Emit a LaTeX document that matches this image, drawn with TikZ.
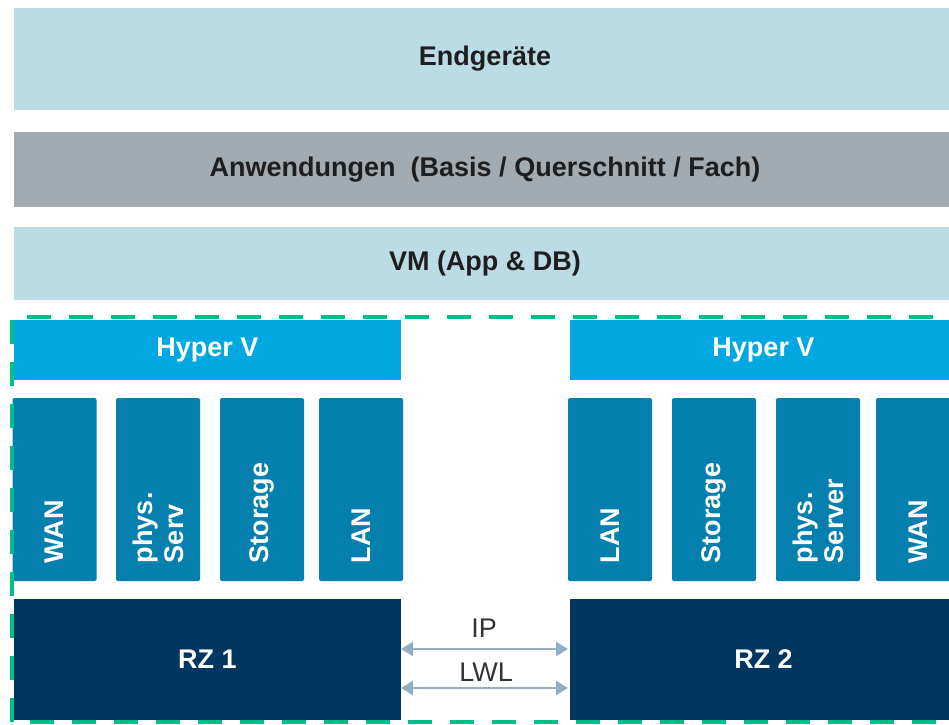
\documentclass[tikz,border=0pt]{standalone}
\usepackage{fontspec}
\setmainfont{Liberation Sans}
\usetikzlibrary{arrows.meta}
\definecolor{bandblue}{HTML}{BCDCE5}
\definecolor{bandgray}{HTML}{A3ABB2}
\definecolor{hyperblue}{HTML}{00A7E1}
\definecolor{colblue}{HTML}{0580AE}
\definecolor{rznavy}{HTML}{00365F}
\definecolor{dashgreen}{HTML}{00BF8A}
\definecolor{arrowgray}{HTML}{93ADC6}
\definecolor{darktext}{HTML}{1E1E1E}
\definecolor{labeltext}{HTML}{333333}
\begin{document}
\begin{tikzpicture}[x=1pt,y=-1pt,
  base/.style={inner sep=0pt, outer sep=0pt, font=\fontsize{27}{31}\selectfont\bfseries},
  band/.style={base, anchor=north west, text=darktext, minimum width=942pt},
  hyper/.style={base, anchor=north west, fill=hyperblue, text=white, minimum width=387pt, minimum height=60pt},
  colbox/.style={base, fill=colblue, text=white, rotate=90, rounded corners=2pt,
     minimum width=183pt, minimum height=84pt, inner xsep=18pt, text width=147pt, align=left},
  rzbox/.style={base, anchor=north west, fill=rznavy, text=white, minimum width=387pt, minimum height=121pt},
  conn/.style={draw=arrowgray, line width=2.6pt, {Triangle[length=12pt,width=14pt]}-{Triangle[length=12pt,width=14pt]}},
  lbl/.style={inner sep=0pt, text=labeltext, font=\fontsize{27}{31}\selectfont},
  framedash/.style={draw=dashgreen, line width=4pt, dash pattern=on 24pt off 18pt}
]
\useasboundingbox (0,0) rectangle (949,724);
\clip (0,0) rectangle (949,724);
\fill[white] (0,0) rectangle (949,724);

% top bands
\node[band, fill=bandblue, minimum height=102pt] (endg) at (14,8) {Endgeräte};
\node[band, fill=bandgray, minimum height=75pt] (anw) at (14,132) {Anwendungen~ (Basis / Querschnitt / Fach)};
\node[band, fill=bandblue, minimum height=73pt] (vm) at (14,227) {VM (App \& DB)};

% Hyper V
\node[hyper] (hv1) at (14,320) {Hyper V};
\node[hyper] (hv2) at (570,320) {Hyper V};

% left columns
\node[colbox] (wan1) at (54.5,489.5) {WAN};
\node[colbox] (srv1) at (158,489.5) {phys.\\Serv};
\node[colbox] (sto1) at (262,489.5) {Storage};
\node[colbox] (lan1) at (361,489.5) {LAN};

% right columns
\node[colbox] (lan2) at (610,489.5) {LAN};
\node[colbox] (sto2) at (714,489.5) {Storage};
\node[colbox] (srv2) at (818,489.5) {phys.\\Server};
\node[colbox] (wan2) at (918,489.5) {WAN};

% RZ
\node[rzbox] (rz1) at (14,599) {RZ 1};
\node[rzbox] (rz2) at (570,599) {RZ 2};

% connections
\draw[conn] ([yshift=10.5pt]rz1.east) -- ([yshift=10.5pt,xshift=-2pt]rz2.west);
\draw[conn] ([yshift=-28.5pt]rz1.east) -- ([yshift=-28.5pt,xshift=-2pt]rz2.west);
\node[lbl] (ip) at (484,628) {IP};
\node[lbl] (lwl) at (486,672) {LWL};

% dashed frame
\draw[framedash] (975,317) -- (12,317) -- (12,722) -- (975,722);
\end{tikzpicture}
\end{document}
